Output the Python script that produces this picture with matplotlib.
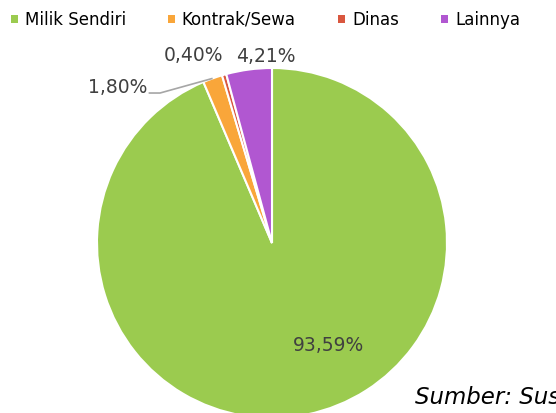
import numpy as np
import matplotlib.pyplot as plt
from matplotlib.patches import Patch

categories = ["Milik Sendiri", "Kontrak/Sewa", "Dinas", "Lainnya"]
shares = [93.59, 1.80, 0.40, 4.21]
colors = ["#9BCB4F", "#F9A63A", "#D9573F", "#B157D1"]
labels = ["93,59%", "1,80%", "0,40%", "4,21%"]

plt.rcParams['font.family'] = ['DejaVu Sans']

fig = plt.figure(figsize=(5.56, 4.13), dpi=100)
W, H = 556, 413
cx, cy, r = 272, 243, 175
ax = fig.add_axes([(cx - r) / W, (H - cy - r) / H, 2 * r / W, 2 * r / H])

wedges, _ = ax.pie(shares, colors=colors, startangle=90, counterclock=False,
                   wedgeprops=dict(edgecolor="white", linewidth=1.5))
ax.set_xlim(-1, 1)
ax.set_ylim(-1, 1)
ax.set_aspect("equal")
ax.axis("off")

txt = "#404040"
fs = 13.5
# data labels
ax.text(0.32, -0.585, labels[0], ha="center", va="center", fontsize=fs, color=txt)
ax.text(-0.714, 0.886, labels[1], ha="right", va="center", fontsize=fs, color=txt)
ax.text(-0.45, 1.07, labels[2], ha="center", va="center", fontsize=fs, color=txt)
ax.text(-0.035, 1.065, labels[3], ha="center", va="center", fontsize=fs, color=txt)

# leader line for Kontrak/Sewa
w = wedges[1]
mid = np.deg2rad((w.theta1 + w.theta2) / 2)
ax.plot([-0.705, -0.64, np.cos(mid)], [0.857, 0.857, np.sin(mid) * 1.0],
        color="#A6A6A6", lw=1.2, clip_on=False, solid_capstyle="butt")

handles = [Patch(facecolor=c, edgecolor="none") for c in colors]
fig.legend(handles, categories, loc="upper left", bbox_to_anchor=(0.0, 1.0), ncol=4,
           frameon=False, fontsize=12, handlelength=0.42, handleheight=0.42,
           handletextpad=0.4, columnspacing=2.55, borderaxespad=0.25)

fig.text(415 / W, 1 - 397 / H, "Sumber: Susenas", fontsize=16.5, style="italic",
         color="black", ha="left", va="center")

fig.savefig("out.png", dpi=100)
